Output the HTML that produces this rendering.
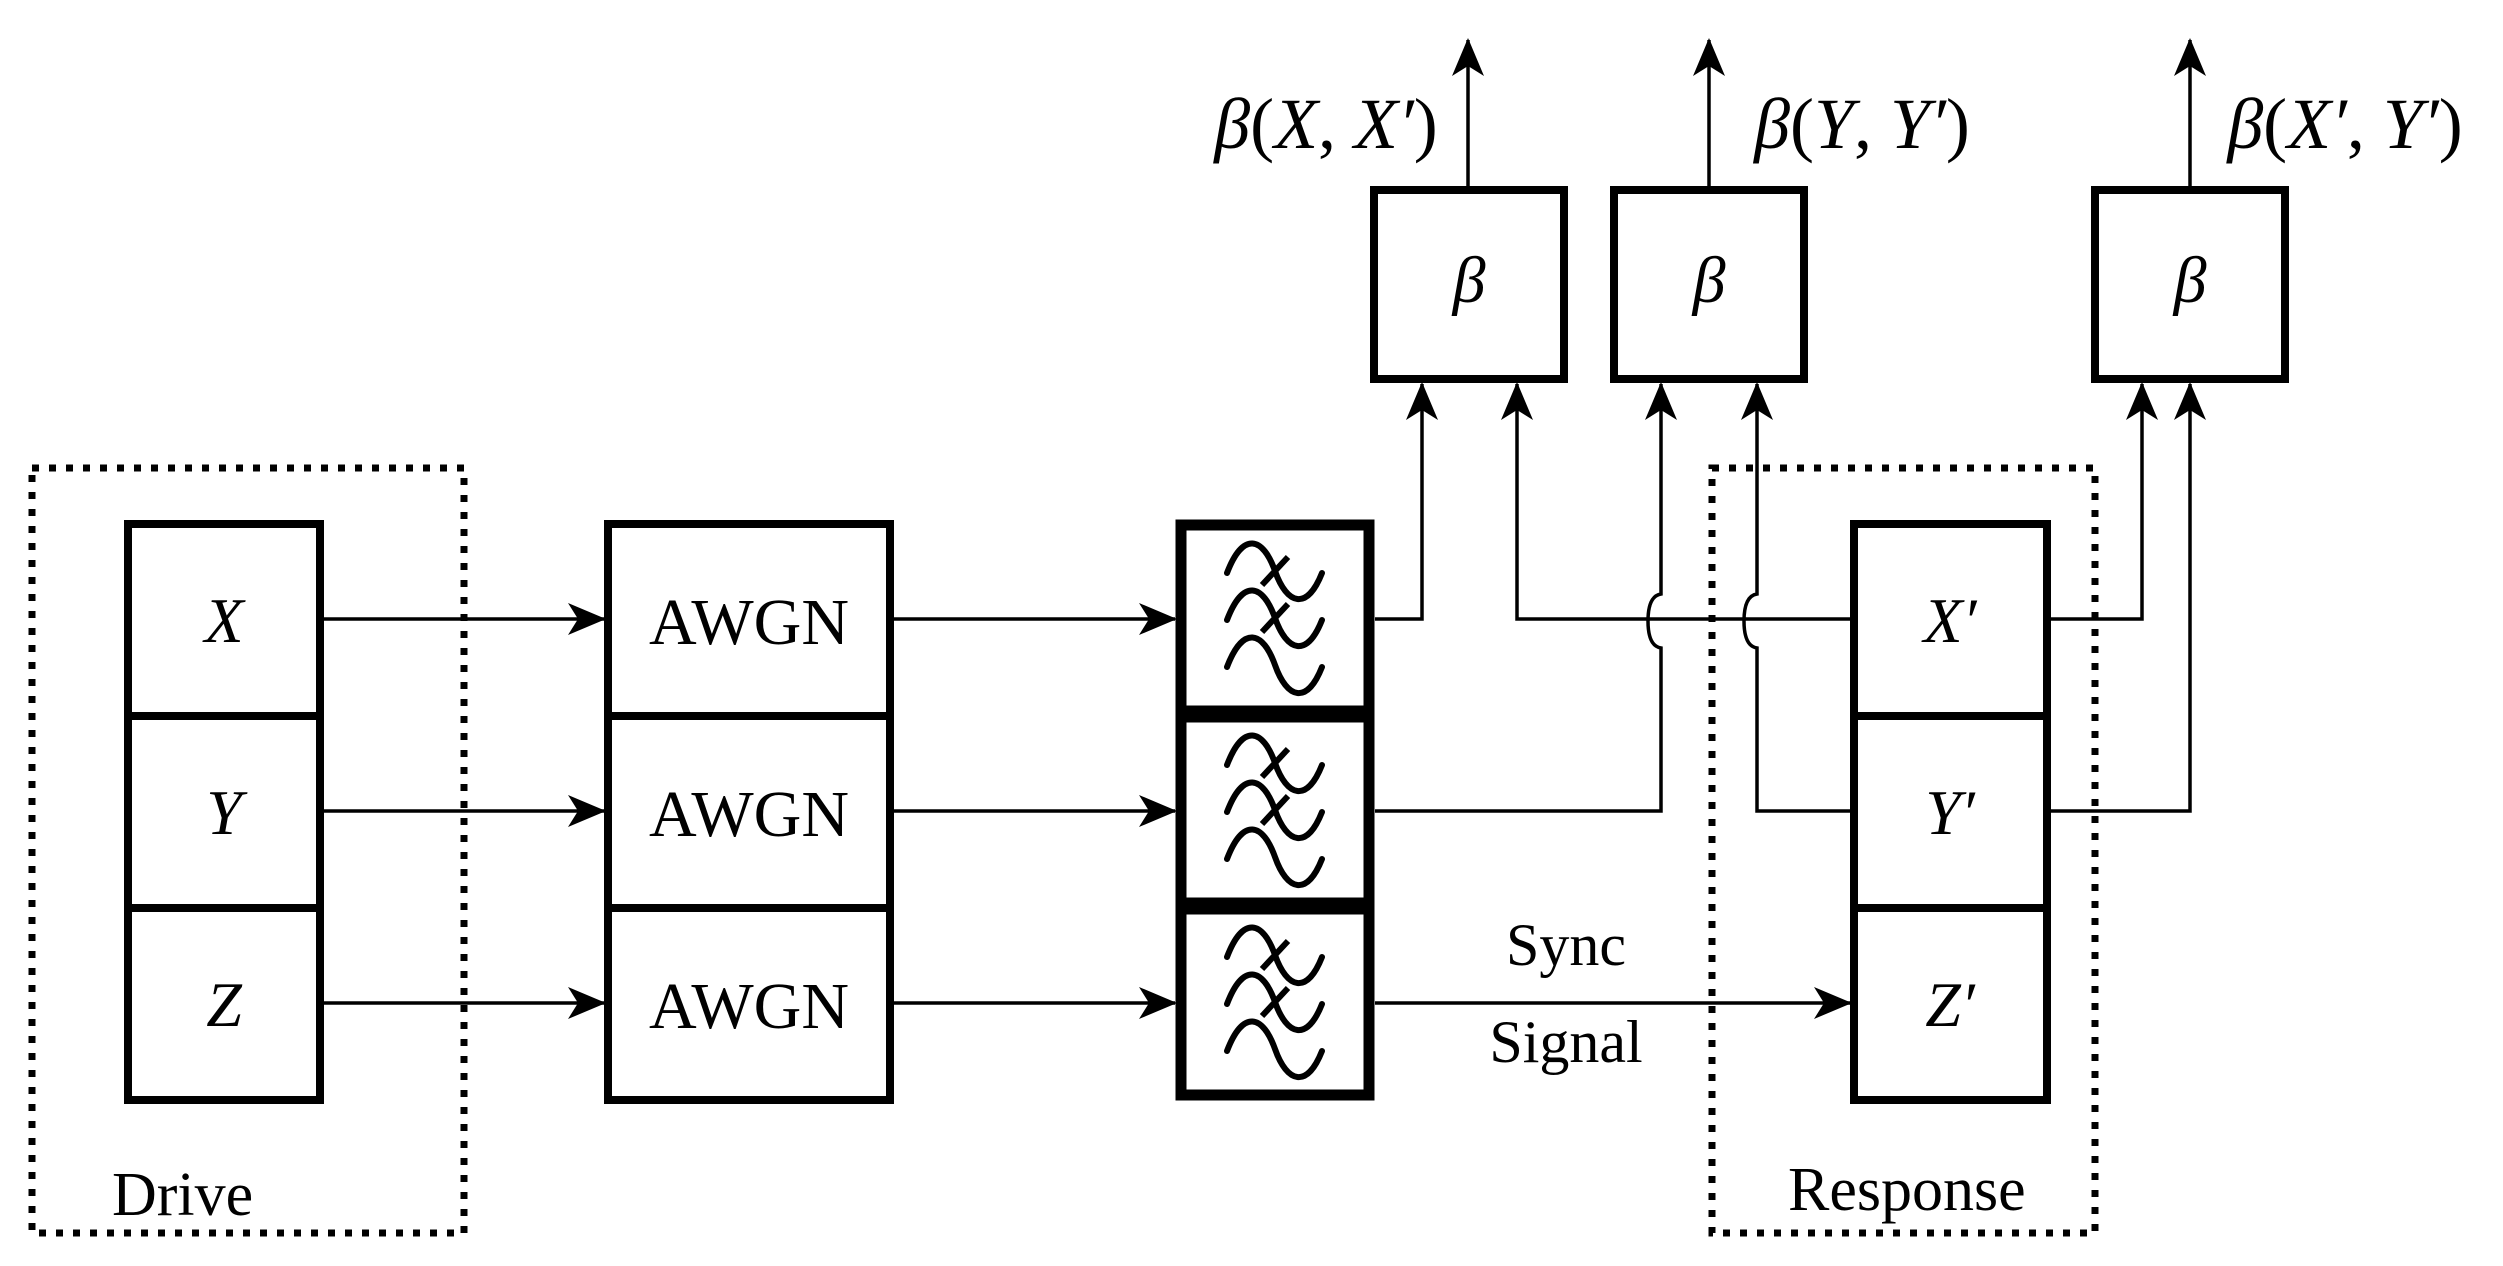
<!DOCTYPE html>
<html><head><meta charset="utf-8"><style>
html,body{margin:0;padding:0;background:#fff;}
svg{display:block;}
text{font-family:"Liberation Serif",serif;fill:#000;}
.i{font-style:italic;}
</style></head><body>
<svg width="2503" height="1266" viewBox="0 0 2503 1266" xmlns="http://www.w3.org/2000/svg">
<defs>
<marker id="ah" markerWidth="40" markerHeight="32" refX="36" refY="16" orient="auto" markerUnits="userSpaceOnUse">
<path d="M0,0 L38,16 L0,32 L10,16 Z" fill="#000"/>
</marker>
<g id="wave"><path d="M-48,2 C-32,-40 -12,-34 0,0 S32,40 47,2" fill="none" stroke="#000" stroke-width="6" stroke-linecap="round"/></g>
<g id="filt">
<use href="#wave" x="0" y="0"/>
<line x1="-13" y1="14" x2="13" y2="-14" stroke="#000" stroke-width="6"/>
<use href="#wave" x="0" y="47"/>
<line x1="-13" y1="61" x2="13" y2="33" stroke="#000" stroke-width="6"/>
<use href="#wave" x="0" y="94"/>
</g>
</defs>

<!-- dotted boxes -->
<rect x="32" y="468" width="432" height="765" fill="none" stroke="#000" stroke-width="7" stroke-dasharray="7 10"/>
<rect x="1712" y="468" width="383" height="765" fill="none" stroke="#000" stroke-width="7" stroke-dasharray="7 10"/>

<!-- left box -->
<rect x="128" y="524" width="192" height="576" fill="none" stroke="#000" stroke-width="8"/>
<line x1="128" y1="716" x2="320" y2="716" stroke="#000" stroke-width="8"/>
<line x1="128" y1="908" x2="320" y2="908" stroke="#000" stroke-width="8"/>
<text class="i" x="224" y="642" font-size="64" text-anchor="middle">X</text>
<text class="i" x="224" y="834" font-size="64" text-anchor="middle">Y</text>
<text class="i" x="224" y="1026" font-size="64" text-anchor="middle">Z</text>

<!-- AWGN -->
<rect x="608" y="524" width="282" height="576" fill="none" stroke="#000" stroke-width="8"/>
<line x1="608" y1="716" x2="890" y2="716" stroke="#000" stroke-width="8"/>
<line x1="608" y1="908" x2="890" y2="908" stroke="#000" stroke-width="8"/>
<text x="749" y="644" font-size="66" text-anchor="middle">AWGN</text>
<text x="749" y="836" font-size="66" text-anchor="middle">AWGN</text>
<text x="749" y="1028" font-size="66" text-anchor="middle">AWGN</text>

<!-- filters -->
<rect x="1181" y="525" width="188" height="186" fill="none" stroke="#000" stroke-width="11"/>
<rect x="1181" y="717" width="188" height="186" fill="none" stroke="#000" stroke-width="11"/>
<rect x="1181" y="909" width="188" height="186" fill="none" stroke="#000" stroke-width="11"/>
<use href="#filt" x="1275" y="571"/>
<use href="#filt" x="1275" y="763"/>
<use href="#filt" x="1275" y="955"/>

<!-- response box -->
<rect x="1854" y="524" width="193" height="576" fill="none" stroke="#000" stroke-width="8"/>
<line x1="1854" y1="716" x2="2047" y2="716" stroke="#000" stroke-width="8"/>
<line x1="1854" y1="908" x2="2047" y2="908" stroke="#000" stroke-width="8"/>
<text class="i" x="1950" y="642" font-size="64" text-anchor="middle">X′</text>
<text class="i" x="1950" y="834" font-size="64" text-anchor="middle">Y′</text>
<text class="i" x="1950" y="1026" font-size="64" text-anchor="middle">Z′</text>

<!-- beta boxes -->
<rect x="1374" y="190" width="190" height="189" fill="none" stroke="#000" stroke-width="8"/>
<rect x="1614" y="190" width="190" height="189" fill="none" stroke="#000" stroke-width="8"/>
<rect x="2095" y="190" width="190" height="189" fill="none" stroke="#000" stroke-width="8"/>
<text class="i" x="1469" y="302" font-size="66" text-anchor="middle">β</text>
<text class="i" x="1709" y="302" font-size="66" text-anchor="middle">β</text>
<text class="i" x="2190" y="302" font-size="66" text-anchor="middle">β</text>

<!-- output arrows -->
<g stroke="#000" stroke-width="3.5" fill="none" marker-end="url(#ah)">
<line x1="1468" y1="186" x2="1468" y2="40"/>
<line x1="1709" y1="186" x2="1709" y2="40"/>
<line x1="2190" y1="186" x2="2190" y2="40"/>
</g>
<text x="1326" y="148" font-size="72" text-anchor="middle"><tspan class="i">β</tspan>(<tspan class="i">X</tspan>, <tspan class="i">X′</tspan>)</text>
<text x="1862" y="148" font-size="72" text-anchor="middle"><tspan class="i">β</tspan>(<tspan class="i">Y</tspan>, <tspan class="i">Y′</tspan>)</text>
<text x="2345" y="148" font-size="72" text-anchor="middle"><tspan class="i">β</tspan>(<tspan class="i">X′</tspan>, <tspan class="i">Y′</tspan>)</text>

<!-- arrows -->
<g stroke="#000" stroke-width="3.5" fill="none" marker-end="url(#ah)">
<line x1="324" y1="619" x2="604" y2="619"/>
<line x1="324" y1="811" x2="604" y2="811"/>
<line x1="324" y1="1003" x2="604" y2="1003"/>
<line x1="894" y1="619" x2="1175" y2="619"/>
<line x1="894" y1="811" x2="1175" y2="811"/>
<line x1="894" y1="1003" x2="1175" y2="1003"/>
<line x1="1375" y1="1003" x2="1850" y2="1003"/>
<polyline points="1375,619 1422,619 1422,384"/>
<polyline points="1854,619 1517,619 1517,384"/>
<path d="M1375,811 L1661,811 L1661,648 Q1648,646 1648,621 Q1648,596 1661,594 L1661,384"/>
<path d="M1854,811 L1757,811 L1757,648 Q1744,646 1744,621 Q1744,596 1757,594 L1757,384"/>
<polyline points="2047,619 2142,619 2142,384"/>
<polyline points="2047,811 2190,811 2190,384"/>
</g>

<text x="1566" y="965" font-size="60" text-anchor="middle">Sync</text>
<text x="1566" y="1062" font-size="60" text-anchor="middle">Signal</text>
<text x="112" y="1215" font-size="62">Drive</text>
<text x="1788" y="1210" font-size="62">Response</text>
</svg>
</body></html>
